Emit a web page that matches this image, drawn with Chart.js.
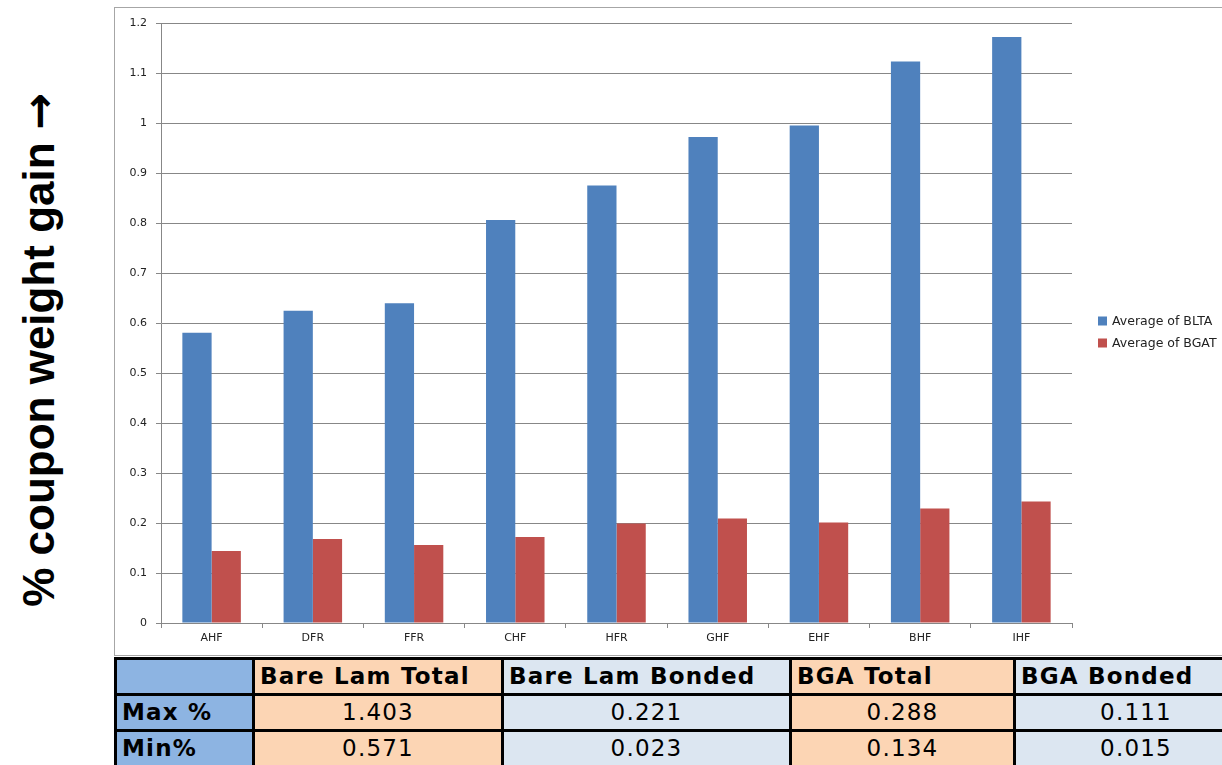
<!DOCTYPE html>
<html>
<head>
<meta charset="utf-8">
<script src="https://cdn.jsdelivr.net/npm/chart.js@4.4.1/dist/chart.umd.min.js"></script>
<style>
  html, body { margin: 0; padding: 0; background: #ffffff; width: 1222px; height: 765px; overflow: hidden; position: relative; }
  #ytitle {
    position: absolute; left: 38px; top: 350px;
    transform: translate(-50%, -50%) rotate(-90deg);
    font-family: "Liberation Sans", Arial, sans-serif; font-weight: bold; font-size: 44px;
    white-space: nowrap; color: #000;
  }
  #ytitle .arr { font-family: "DejaVu Sans", sans-serif; font-weight: bold; }
  #box {
    position: absolute; left: 114px; top: 7px; width: 1130px; height: 647px;
    border: 1px solid #a6a6a6; background: #fff;
  }
  #box canvas { position: absolute; left: 0; top: 0; }
  #tbl { position: absolute; left: 114px; top: 657px; width: 1140px; height: 120px; background: #000; }
  .cell {
    position: absolute; box-sizing: border-box; height: 33px;
    font-family: "DejaVu Sans", Verdana, sans-serif; font-size: 23px; letter-spacing: 1.2px;
    color: #000; line-height: 33px; white-space: nowrap; overflow: hidden;
  }
  .hd { font-weight: bold; text-align: left; padding-left: 5px; }
  .num { text-align: center; }
</style>
</head>
<body>
<div id="ytitle">% coupon weight gain <span class="arr">→</span></div>
<div id="box"><canvas id="c" width="1107" height="647" style="width:1107px;height:647px"></canvas></div>
<div id="tbl"></div>
<script>
// Chart data
const categories = ["AHF", "DFR", "FFR", "CHF", "HFR", "GHF", "EHF", "BHF", "IHF"];
const avgBLTA = [0.581, 0.625, 0.640, 0.807, 0.876, 0.973, 0.996, 1.124, 1.173];
const avgBGAT = [0.144, 0.168, 0.156, 0.172, 0.199, 0.209, 0.201, 0.229, 0.243];
const seriesNames = ["Average of BLTA", "Average of BGAT"];
const yTickLabels = ["0", "0.1", "0.2", "0.3", "0.4", "0.5", "0.6", "0.7", "0.8", "0.9", "1", "1.1", "1.2"];

// Summary table
const tableHeaders = ["", "Bare Lam Total", "Bare Lam Bonded", "BGA Total", "BGA Bonded"];
const rowLabels = ["Max %", "Min%"];
const maxRow = ["1.403", "0.221", "0.288", "0.111"];
const minRow = ["0.571", "0.023", "0.134", "0.015"];

const blue = "#4F81BD", red = "#C0504D", gridCol = "#878787";

// Legend drawn to the right of the plot
const sideLegend = {
  id: "sideLegend",
  afterDraw(chart) {
    const ctx = chart.ctx, a = chart.chartArea;
    const x = a.right + 26;
    const ys = [313, 335];
    ctx.save();
    ctx.font = "12.5px 'DejaVu Sans', sans-serif";
    ctx.textBaseline = "middle";
    chart.data.datasets.forEach((ds, i) => {
      ctx.fillStyle = ds.backgroundColor;
      ctx.fillRect(x, ys[i] - 4.5, 9, 9);
      ctx.fillStyle = "#222";
      ctx.fillText(ds.label, x + 14, ys[i] + 0.5);
    });
    ctx.restore();
  }
};

new Chart(document.getElementById("c"), {
  type: "bar",
  data: {
    labels: categories,
    datasets: [
      { label: seriesNames[0], data: avgBLTA, backgroundColor: blue, borderWidth: 0 },
      { label: seriesNames[1], data: avgBGAT, backgroundColor: red, borderWidth: 0 }
    ]
  },
  options: {
    responsive: false,
    animation: false,
    layout: { padding: { top: 13, right: 150, left: 0, bottom: 0 } },
    datasets: { bar: { categoryPercentage: 0.578, barPercentage: 1.0 } },
    plugins: { legend: { display: false }, tooltip: { enabled: false } },
    scales: {
      x: {
        offset: true,
        grid: { display: true, drawOnChartArea: false, drawTicks: true, tickLength: 5, color: gridCol, offset: true },
        border: { display: true, color: gridCol, width: 1 },
        ticks: { color: "#222", font: { family: "'DejaVu Sans', sans-serif", size: 11 }, padding: 4, maxRotation: 0 },
        afterFit(scale) { scale.height = 32; }
      },
      y: {
        min: 0, max: 1.2,
        ticks: {
          stepSize: 0.1, color: "#222", padding: 9,
          font: { family: "'DejaVu Sans', sans-serif", size: 11 },
          callback: (v, i) => yTickLabels[i]
        },
        grid: { color: gridCol, tickLength: 5, drawTicks: true },
        border: { display: true, color: gridCol, width: 1 },
        afterFit(scale) { scale.width = 46; }
      }
    }
  },
  plugins: [sideLegend]
});

// Build summary table cells
const colX = [117, 255, 504, 792, 1016];
const colW = [135, 246, 285, 221, 240];
const rowY = [660, 696, 732];
const colBg = ["#8DB4E2", "#FCD5B4", "#DCE6F1", "#FCD5B4", "#DCE6F1"];
const tbl = document.getElementById("tbl");
function addCell(r, c, text, cls) {
  const d = document.createElement("div");
  d.className = "cell " + cls;
  d.style.left = (colX[c] - 114) + "px";
  d.style.top = (rowY[r] - 657) + "px";
  d.style.width = colW[c] + "px";
  d.style.background = colBg[c];
  d.textContent = text;
  tbl.appendChild(d);
}
tableHeaders.forEach((h, c) => addCell(0, c, h, "hd"));
[maxRow, minRow].forEach((row, r) => {
  addCell(r + 1, 0, rowLabels[r], "hd");
  row.forEach((v, c) => addCell(r + 1, c + 1, v, "num"));
});
</script>
</body>
</html>
